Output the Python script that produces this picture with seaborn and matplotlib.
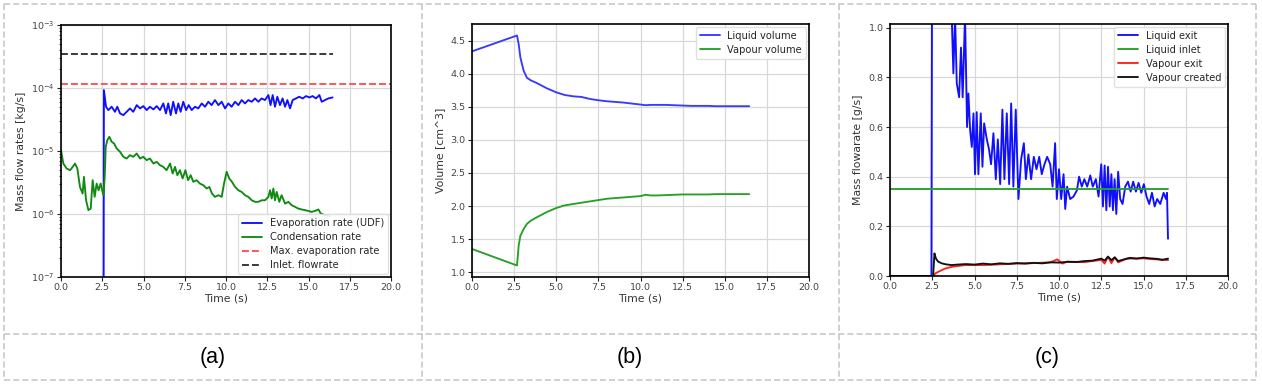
import pandas as pd
import numpy as np
import seaborn as sns
import matplotlib.pyplot as plt
from matplotlib.lines import Line2D

# ---- (a) mass flow rates [kg/s], log scale
t_evap = [2.58, 2.60, 2.73, 2.87, 3.07, 3.27, 3.41, 3.58, 3.78, 3.98, 4.18, 4.38, 4.59, 4.79, 4.99,
          5.19, 5.39, 5.60, 5.80, 6.00, 6.20, 6.36, 6.50, 6.65, 6.80, 6.97, 7.11, 7.25, 7.41, 7.58,
          7.74, 7.92, 8.12, 8.32, 8.53, 8.73, 8.93, 9.13, 9.33, 9.54, 9.74, 9.94, 10.14, 10.34, 10.55,
          10.75, 10.95, 11.15, 11.35, 11.56, 11.76, 11.96, 12.16, 12.36, 12.57, 12.70, 12.83, 12.97,
          13.11, 13.27, 13.43, 13.58, 13.72, 13.88, 14.04, 14.24, 14.44, 14.65, 14.85, 15.05, 15.25,
          15.45, 15.66, 15.80, 16.00, 16.20, 16.46]
evap = [1e-8, 9.27e-5, 5.04e-5, 4.46e-5, 5.04e-5, 4.19e-5, 5.04e-5, 3.94e-5, 3.71e-5, 4.19e-5,
        4.74e-5, 4.19e-5, 5.35e-5, 4.74e-5, 5.16e-5, 4.46e-5, 5.04e-5, 4.57e-5, 5.16e-5, 4.46e-5,
        5.69e-5, 3.94e-5, 5.69e-5, 3.71e-5, 6.05e-5, 3.94e-5, 5.69e-5, 4.19e-5, 6.05e-5, 4.46e-5,
        5.35e-5, 4.46e-5, 5.04e-5, 4.74e-5, 5.69e-5, 5.04e-5, 6.05e-5, 5.35e-5, 6.43e-5, 5.35e-5,
        6.05e-5, 4.74e-5, 5.69e-5, 5.04e-5, 6.05e-5, 5.35e-5, 6.43e-5, 5.69e-5, 6.43e-5, 6.05e-5,
        6.83e-5, 6.05e-5, 6.83e-5, 6.43e-5, 7.72e-5, 5.35e-5, 7.72e-5, 5.04e-5, 7.26e-5, 5.35e-5,
        6.83e-5, 5.04e-5, 6.43e-5, 4.74e-5, 6.43e-5, 6.83e-5, 7.26e-5, 6.83e-5, 7.44e-5, 7.08e-5,
        7.44e-5, 6.83e-5, 7.72e-5, 6.05e-5, 6.43e-5, 6.83e-5, 7.08e-5]

t_cond = [0.00, 0.14, 0.34, 0.55, 0.71, 0.85, 0.99, 1.15, 1.31, 1.39, 1.52, 1.66, 1.80, 1.92, 2.04,
          2.16, 2.28, 2.40, 2.57, 2.65, 2.71, 2.81, 2.93, 3.07, 3.21, 3.37, 3.58, 3.78, 3.98, 4.18,
          4.38, 4.59, 4.79, 4.99, 5.19, 5.39, 5.60, 5.80, 6.00, 6.20, 6.40, 6.61, 6.77, 6.91, 7.05,
          7.21, 7.37, 7.54, 7.70, 7.86, 8.02, 8.22, 8.42, 8.63, 8.83, 8.99, 9.15, 9.33, 9.54, 9.74,
          9.88, 10.04, 10.20, 10.36, 10.55, 10.75, 10.95, 11.15, 11.35, 11.56, 11.76, 11.96, 12.16,
          12.36, 12.57, 12.67, 12.77, 12.87, 12.97, 13.07, 13.23, 13.37, 13.58, 13.78, 13.98, 14.18,
          14.38, 14.59, 14.79, 14.99, 15.19, 15.39, 15.60, 15.74, 16.00, 16.30]
cond = [1.03e-5, 6.33e-6, 5.27e-6, 4.96e-6, 5.60e-6, 6.33e-6, 5.27e-6, 2.69e-6, 2.11e-6, 3.88e-6,
        1.65e-6, 1.15e-6, 1.22e-6, 3.44e-6, 1.87e-6, 3.04e-6, 2.38e-6, 3.04e-6, 1.99e-6, 3.88e-6,
        1.16e-5, 1.49e-5, 1.68e-5, 1.40e-5, 1.32e-5, 1.10e-5, 9.70e-6, 8.08e-6, 7.60e-6, 8.59e-6,
        8.08e-6, 9.13e-6, 7.60e-6, 8.08e-6, 7.15e-6, 7.60e-6, 6.33e-6, 6.73e-6, 5.95e-6, 5.60e-6,
        4.96e-6, 6.33e-6, 4.39e-6, 5.60e-6, 4.13e-6, 4.96e-6, 3.66e-6, 4.96e-6, 3.44e-6, 4.13e-6,
        3.24e-6, 3.44e-6, 3.04e-6, 2.86e-6, 2.54e-6, 2.69e-6, 2.11e-6, 1.87e-6, 1.99e-6, 1.87e-6,
        3.04e-6, 4.67e-6, 3.66e-6, 3.24e-6, 2.69e-6, 2.38e-6, 2.24e-6, 1.99e-6, 1.87e-6, 1.65e-6,
        1.56e-6, 1.56e-6, 1.65e-6, 1.65e-6, 1.87e-6, 2.38e-6, 1.76e-6, 2.54e-6, 1.65e-6, 2.24e-6,
        1.56e-6, 1.99e-6, 1.46e-6, 1.56e-6, 1.38e-6, 1.30e-6, 1.22e-6, 1.18e-6, 1.15e-6, 1.12e-6,
        1.08e-6, 1.12e-6, 1.18e-6, 1.02e-6, 9.55e-7, 9.21e-7]

t_max_evap = [0.0, 20.0]
max_evap = [1.16e-4, 1.16e-4]
t_inlet = [0.0, 16.5]
inlet = [3.43e-4, 3.43e-4]

# ---- (b) volumes [cm^3]
t_vol = [0.0, 2.67, 2.77, 2.87, 3.06, 3.26, 3.5, 3.85, 4.45, 5.0, 5.5, 6.0, 6.5, 7.0, 7.5, 8.0, 8.5,
         9.0, 9.5, 10.0, 10.3, 10.6, 11.0, 11.5, 12.0, 12.5, 13.0, 13.5, 14.0, 14.5, 15.0, 15.5,
         16.0, 16.45]
liq_vol = [4.34, 4.58, 4.45, 4.25, 4.05, 3.94, 3.90, 3.86, 3.78, 3.72, 3.68, 3.66, 3.65, 3.62, 3.60,
           3.585, 3.575, 3.565, 3.55, 3.535, 3.525, 3.53, 3.53, 3.53, 3.525, 3.52, 3.515, 3.515,
           3.515, 3.51, 3.51, 3.51, 3.51, 3.51]
vap_vol = [1.35, 1.10, 1.40, 1.55, 1.65, 1.73, 1.78, 1.83, 1.91, 1.97, 2.01, 2.03, 2.05, 2.07, 2.09,
           2.11, 2.12, 2.13, 2.14, 2.15, 2.17, 2.16, 2.16, 2.165, 2.17, 2.175, 2.175, 2.175, 2.175,
           2.18, 2.18, 2.18, 2.18, 2.18]

# ---- (c) mass flowrates [g/s]
t_liq_exit = [0.0, 2.45, 2.51, 3.0, 3.65, 3.75, 3.85, 3.95, 4.09, 4.2, 4.3, 4.44, 4.56, 4.64, 4.74,
              4.84, 4.94, 5.03, 5.13, 5.23, 5.37, 5.47, 5.57, 5.73, 5.86, 5.98, 6.12, 6.26, 6.38,
              6.52, 6.65, 6.77, 6.91, 7.05, 7.17, 7.3, 7.44, 7.6, 7.76, 7.92, 8.04, 8.19, 8.35, 8.51,
              8.67, 8.83, 8.98, 9.14, 9.3, 9.48, 9.62, 9.77, 9.87, 10.0, 10.13, 10.27, 10.37, 10.48,
              10.66, 10.86, 11.06, 11.19, 11.35, 11.5, 11.67, 11.85, 12.0, 12.18, 12.34, 12.5, 12.6,
              12.7, 12.8, 12.9, 13.0, 13.1, 13.19, 13.29, 13.39, 13.5, 13.62, 13.76, 13.92, 14.08,
              14.24, 14.39, 14.55, 14.71, 14.87, 15.02, 15.18, 15.34, 15.5, 15.66, 15.81, 15.99,
              16.19, 16.33, 16.39, 16.45]
liq_exit = [0.0, 0.0, 2.0, 1.6, 1.05, 0.816, 1.05, 0.776, 0.72, 0.92, 0.72, 1.05, 0.60, 0.735, 0.588,
            0.52, 0.655, 0.41, 0.66, 0.41, 0.655, 0.44, 0.615, 0.55, 0.51, 0.45, 0.575, 0.39, 0.55,
            0.37, 0.67, 0.39, 0.655, 0.37, 0.695, 0.36, 0.67, 0.31, 0.47, 0.535, 0.39, 0.49, 0.39,
            0.48, 0.43, 0.48, 0.41, 0.45, 0.48, 0.45, 0.36, 0.535, 0.31, 0.43, 0.31, 0.41, 0.27,
            0.36, 0.31, 0.32, 0.345, 0.40, 0.36, 0.39, 0.36, 0.405, 0.36, 0.39, 0.32, 0.45, 0.28,
            0.445, 0.265, 0.44, 0.28, 0.41, 0.265, 0.39, 0.25, 0.42, 0.31, 0.29, 0.36, 0.38, 0.34,
            0.38, 0.34, 0.375, 0.335, 0.37, 0.32, 0.29, 0.335, 0.28, 0.31, 0.29, 0.335, 0.31, 0.335,
            0.15]

t_liq_inlet = [0.0, 16.45]
liq_inlet = [0.35, 0.35]

t_vap_exit = [0.0, 2.5, 2.6, 2.67, 2.86, 3.26, 3.65, 4.44, 5.6, 6.5, 7.5, 8.5, 9.5, 9.9, 10.2, 10.5,
              11.5, 12.5, 12.7, 12.9, 13.1, 13.3, 13.5, 14.0, 15.0, 15.5, 16.0, 16.45]
vap_exit = [0.0, 0.0, 0.002, 0.010, 0.017, 0.030, 0.037, 0.044, 0.044, 0.047, 0.050, 0.052, 0.055,
            0.067, 0.050, 0.058, 0.056, 0.065, 0.050, 0.078, 0.052, 0.075, 0.055, 0.070, 0.071,
            0.068, 0.066, 0.064]

t_vap_created = [0.0, 2.55, 2.63, 2.72, 2.85, 3.06, 3.3, 3.65, 4.0, 4.5, 5.0, 5.5, 6.0, 6.5, 7.0,
                 7.5, 8.0, 8.5, 9.0, 9.5, 10.0, 10.5, 11.0, 11.5, 12.0, 12.5, 12.7, 12.9, 13.1,
                 13.3, 13.5, 13.8, 14.2, 14.6, 15.0, 15.4, 15.8, 16.1, 16.45]
vap_created = [0.0, 0.0, 0.091, 0.070, 0.058, 0.051, 0.047, 0.044, 0.046, 0.048, 0.046, 0.050, 0.047,
               0.051, 0.049, 0.052, 0.050, 0.053, 0.051, 0.055, 0.054, 0.057, 0.056, 0.060, 0.062,
               0.070, 0.062, 0.078, 0.064, 0.075, 0.060, 0.066, 0.073, 0.070, 0.074, 0.071, 0.069,
               0.065, 0.070]

x_ticks = [0.0, 2.5, 5.0, 7.5, 10.0, 12.5, 15.0, 17.5, 20.0]
panel_labels = ["(a)", "(b)", "(c)"]

sns.set_theme(style="whitegrid", rc={
    "axes.edgecolor": "black", "axes.linewidth": 1.2, "grid.color": "#d8d8d8", "grid.linewidth": 0.9,
    "xtick.bottom": True, "ytick.left": True, "xtick.major.size": 3, "ytick.major.size": 3,
    "xtick.major.width": 0.8, "ytick.major.width": 0.8, "ytick.minor.size": 1.8, "ytick.minor.width": 0.6,
    "xtick.color": "#222222", "ytick.color": "#222222", "xtick.labelcolor": "#444444",
    "ytick.labelcolor": "#444444", "axes.labelcolor": "#333333",
})
plt.rcParams['font.family'] = ['DejaVu Sans']

fig = plt.figure(figsize=(12.62, 3.86), dpi=100)
W, H = 1262, 386


def box(l, r, t, b):
    return [l / W, 1 - b / H, (r - l) / W, (b - t) / H]


ax1 = fig.add_axes(box(61, 391, 25, 277))
ax2 = fig.add_axes(box(472, 809, 24, 277))
ax3 = fig.add_axes(box(890, 1228, 24, 276))

lw = 1.35
leg_kw = dict(fontsize=7.1, framealpha=0.9, edgecolor="#dddddd", handlelength=2.0,
              borderaxespad=0.3, labelspacing=0.4)
# (a)
sns.lineplot(x=t_evap, y=evap, ax=ax1, color="#1010ff", lw=lw, estimator=None, sort=False, label="Evaporation rate (UDF)")
sns.lineplot(x=t_cond, y=cond, ax=ax1, color="#108a10", lw=lw, estimator=None, sort=False, label="Condensation rate")
sns.lineplot(x=t_max_evap, y=max_evap, ax=ax1, color="#ff5050", lw=lw, ls="--", estimator=None, label="Max. evaporation rate")
sns.lineplot(x=t_inlet, y=inlet, ax=ax1, color="#333333", lw=lw, ls="--", estimator=None, label="Inlet. flowrate")
ax1.set_yscale("log")
ax1.set_ylim(1e-7, 1e-3)
ax1.set_ylabel("Mass flow rates [kg/s]")
ax1.legend(loc="lower right", **leg_kw)

# (b)
sns.lineplot(x=t_vol, y=liq_vol, ax=ax2, color="#3a3aff", lw=lw, estimator=None, sort=False, label="Liquid volume")
sns.lineplot(x=t_vol, y=vap_vol, ax=ax2, color="#28a028", lw=lw, estimator=None, sort=False, label="Vapour volume")
ax2.set_yticks([1.0, 1.5, 2.0, 2.5, 3.0, 3.5, 4.0, 4.5])
ax2.set_ylabel("Volume [cm^3]")
ax2.legend(loc="upper right", **leg_kw)

# (c)
sns.lineplot(x=t_liq_exit, y=liq_exit, ax=ax3, color="#1010ff", lw=lw, estimator=None, sort=False, label="Liquid exit")
sns.lineplot(x=t_liq_inlet, y=liq_inlet, ax=ax3, color="#28a028", lw=lw, estimator=None, label="Liquid inlet")
sns.lineplot(x=t_vap_exit, y=vap_exit, ax=ax3, color="#ff2020", lw=lw, estimator=None, sort=False, label="Vapour exit")
sns.lineplot(x=t_vap_created, y=vap_created, ax=ax3, color="#111111", lw=lw, estimator=None, sort=False, label="Vapour created")
ax3.set_ylim(0, 1.015)
ax3.set_yticks([0.0, 0.2, 0.4, 0.6, 0.8, 1.0])
ax3.set_ylabel("Mass flowarate [g/s]")
ax3.legend(loc="upper right", **leg_kw)

for ax in (ax1, ax2, ax3):
    ax.set_xlim(0, 20)
    ax.set_xticks(x_ticks)
    ax.set_xticklabels([f"{v:.1f}" for v in x_ticks])
    ax.set_xlabel("Time (s)", fontsize=7.8, labelpad=1)
    ax.yaxis.label.set_size(7.8)
    ax.tick_params(labelsize=6.8, pad=1.5, direction="out")
    for s in ax.spines.values():
        s.set_visible(True)
ax1.tick_params(axis="y", which="minor", left=True, length=1.8)
ax2.set_yticklabels([f"{v:.1f}" for v in ax2.get_yticks()])
ax3.set_yticklabels([f"{v:.1f}" for v in ax3.get_yticks()])

# table borders around the three panels
dash_kw = dict(color="#c4c4c4", lw=1.1, ls=(0, (4, 2)), transform=fig.transFigure)
for y in (4, 334, 380):
    fig.add_artist(Line2D([4 / W, 1256 / W], [1 - y / H, 1 - y / H], **dash_kw))
for x in (4, 422, 839, 1256):
    fig.add_artist(Line2D([x / W, x / W], [1 - 4 / H, 1 - 380 / H], **dash_kw))

for cx, lab in zip([213, 630, 1047], panel_labels):
    fig.text(cx / W, 1 - 357 / H, lab, ha="center", va="center", fontsize=15.5, color="black",
             family=["Liberation Sans", "DejaVu Sans"])

fig.savefig("out.png", dpi=100)
